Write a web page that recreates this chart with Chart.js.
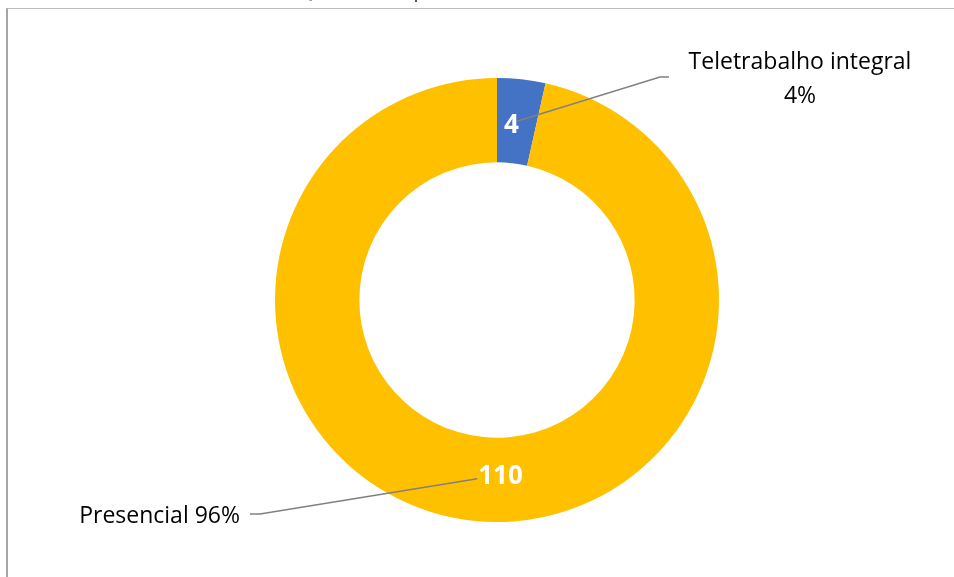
<!DOCTYPE html>
<html>
<head>
<meta charset="utf-8">
<script src="https://cdn.jsdelivr.net/npm/chart.js@4.4.1/dist/chart.umd.min.js"></script>
<style>
  html, body { margin: 0; padding: 0; background: #fff; overflow: hidden; }
  #frame {
    position: absolute; left: 6px; top: 8px; width: 1000px; height: 620px;
    border-left: 2px solid #a6a6a6; border-top: 1px solid #bfbfbf;
  }
  #chart { position: absolute; left: 0; top: 0; }
</style>
</head>
<body>
<div id="frame"></div>
<canvas id="chart" width="954" height="577"></canvas>
<script>
// ── Data ─────────────────────────────────────────────────────────────────────
const titleText = 'Gráfico n.º 3 – Quadro de pessoal em teletrabalho no final de 2021'
const categories = ['Teletrabalho integral', 'Presencial']
const values     = [4, 110]
const colors     = ['#4472C4', '#FFC000']

// outside label boxes (text lines, anchor, alignment) and leader elbows
const outsideLabels = [
    { lines: ['Teletrabalho integral', '4%'], x: 800, y: 69, align: 'center', elbow: [[660, 77], [669, 77]] },
    { lines: ['Presencial 96%'],              x: 240, y: 523, align: 'right', elbow: [[260, 514], [250, 514]] },
]

const labelFont = "23px 'Open Sans', sans-serif"
const valueFont = "bold 26px 'Open Sans', sans-serif"

// ── Labels, leader lines and clipped title ───────────────────────────────────
const donutLabels = {
    id: 'donutLabels',
    afterDatasetsDraw(chart) {
        const ctx = chart.ctx
        const arcs = chart.getDatasetMeta(0).data
        ctx.save()

        // title sits above the visible area – only its lower edge shows
        ctx.font = "22px 'Open Sans', sans-serif"
        ctx.fillStyle = '#404040'
        ctx.textAlign = 'center'
        ctx.textBaseline = 'alphabetic'
        ctx.fillText(titleText, 490, -3)

        arcs.forEach((arc, i) => {
            const p = arc.tooltipPosition()
            const lab = outsideLabels[i]

            // leader line from slice centroid to the label
            ctx.strokeStyle = '#808080'
            ctx.lineWidth = 1.5
            ctx.beginPath()
            ctx.moveTo(p.x, p.y)
            lab.elbow.forEach(([x, y]) => ctx.lineTo(x, y))
            ctx.stroke()

            // value inside the ring
            ctx.font = valueFont
            ctx.fillStyle = '#ffffff'
            ctx.textBaseline = 'middle'
            ctx.textAlign = i === 0 ? 'right' : 'left'
            ctx.fillText(String(values[i]), i === 0 ? p.x + 2 : p.x + 1, p.y + (i === 0 ? 4 : -2))

            // category + percentage outside
            ctx.font = labelFont
            ctx.fillStyle = '#000000'
            ctx.textBaseline = 'alphabetic'
            ctx.textAlign = lab.align
            lab.lines.forEach((t, k) => ctx.fillText(t, lab.x, lab.y + k * 34))
        })
        ctx.restore()
    },
}

new Chart(document.getElementById('chart'), {
    type: 'doughnut',
    data: {
        labels: categories,
        datasets: [{
            data: values,
            backgroundColor: colors,
            borderWidth: 0,
        }],
    },
    options: {
        responsive: false,
        maintainAspectRatio: false,
        animation: false,
        cutout: '62%',
        layout: { padding: { left: 275, right: 235, top: 78, bottom: 55 } },
        plugins: {
            legend: { display: false },
            tooltip: { enabled: false },
            title: { display: false },
        },
    },
    plugins: [donutLabels],
})
</script>
</body>
</html>
